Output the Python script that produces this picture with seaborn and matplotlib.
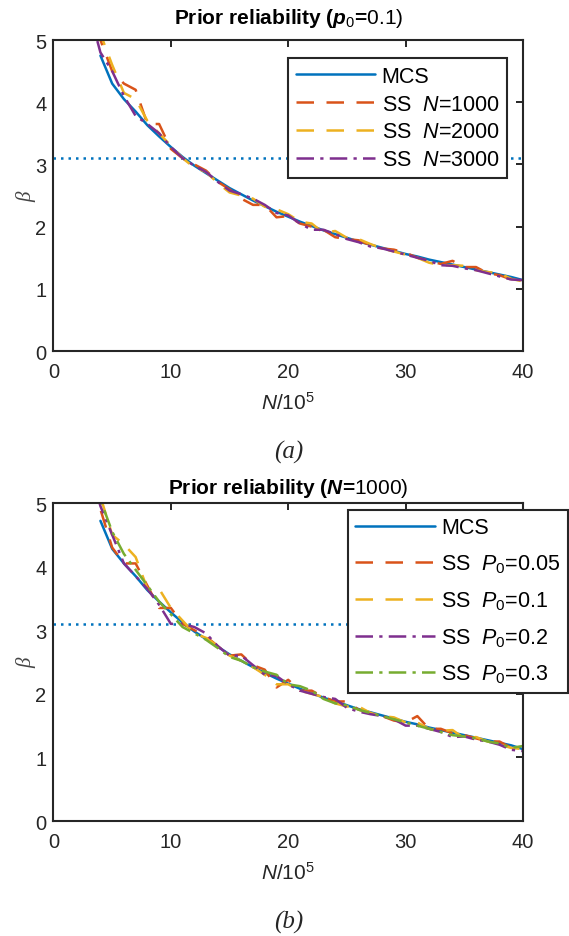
import numpy as np
import pandas as pd
import matplotlib
matplotlib.use("Agg")
import matplotlib.pyplot as plt
import seaborn as sns

# ---- data ----
x_mcs = list(range(4, 41))
x_ss = list(range(3, 41))

mcs_a = [4.75, 4.30, 4.05, 3.85, 3.63, 3.45, 3.28, 3.12, 2.98, 2.86, 2.74, 2.62, 2.52,
         2.42, 2.33, 2.24, 2.16, 2.08, 2.01, 1.94, 1.88, 1.82, 1.76, 1.71, 1.66, 1.61,
         1.56, 1.52, 1.47, 1.43, 1.39, 1.35, 1.31, 1.27, 1.23, 1.19, 1.14]
ss_n1000 = [5.9, 5.0, 4.5, 4.3, 4.2, 3.65, 3.65, 3.25, 3.1, 3.0, 2.9, 2.72, 2.6, 2.45,
            2.35, 2.35, 2.15, 2.17, 2.05, 2.0, 1.95, 1.83, 1.8, 1.78, 1.7, 1.65, 1.63,
            1.58, 1.5, 1.45, 1.4, 1.45, 1.35, 1.35, 1.25, 1.22, 1.15, 1.13]
ss_n2000 = [6.0, 5.1, 4.6, 4.15, 4.05, 3.7, 3.5, 3.3, 3.1, 2.95, 2.88, 2.7, 2.55, 2.5,
            2.45, 2.32, 2.28, 2.2, 2.08, 2.05, 1.9, 1.93, 1.82, 1.8, 1.72, 1.65, 1.6,
            1.55, 1.5, 1.42, 1.38, 1.38, 1.37, 1.3, 1.27, 1.25, 1.16, 1.12]
ss_n3000 = [5.5, 4.8, 4.5, 4.1, 3.78, 3.65, 3.5, 3.28, 3.1, 2.98, 2.88, 2.72, 2.58, 2.52,
            2.45, 2.35, 2.22, 2.18, 2.05, 1.95, 1.95, 1.88, 1.8, 1.75, 1.68, 1.65, 1.6,
            1.55, 1.5, 1.45, 1.38, 1.37, 1.33, 1.3, 1.25, 1.2, 1.15, 1.14]

mcs_b = [4.72, 4.28, 4.05, 3.85, 3.63, 3.45, 3.28, 3.12, 2.98, 2.86, 2.74, 2.62, 2.52,
         2.42, 2.33, 2.24, 2.16, 2.08, 2.01, 1.94, 1.88, 1.82, 1.76, 1.71, 1.66, 1.61,
         1.56, 1.52, 1.47, 1.43, 1.39, 1.35, 1.31, 1.27, 1.23, 1.19, 1.13]
ss_p005 = [5.8, 4.9, 4.3, 4.05, 4.05, 3.7, 3.35, 3.35, 3.1, 3.0, 2.9, 2.75, 2.6, 2.62,
           2.45, 2.38, 2.1, 2.22, 2.05, 2.05, 1.95, 1.88, 1.88, 1.75, 1.7, 1.65, 1.58,
           1.55, 1.65, 1.45, 1.45, 1.38, 1.35, 1.3, 1.25, 1.25, 1.15, 1.12]
ss_p01 = [6.0, 5.1, 4.5, 4.35, 4.15, 3.65, 3.65, 3.35, 3.15, 2.95, 2.88, 2.75, 2.6, 2.52,
          2.42, 2.3, 2.15, 2.15, 2.05, 2.0, 1.95, 1.85, 1.8, 1.8, 1.7, 1.65, 1.63,
          1.55, 1.55, 1.45, 1.42, 1.43, 1.3, 1.32, 1.25, 1.2, 1.15, 1.13]
ss_p02 = [5.6, 4.95, 4.5, 4.05, 3.85, 3.65, 3.4, 3.1, 3.1, 3.05, 2.95, 2.75, 2.6, 2.6,
          2.45, 2.3, 2.28, 2.15, 2.05, 2.0, 1.95, 1.92, 1.78, 1.72, 1.68, 1.65, 1.6,
          1.5, 1.5, 1.45, 1.4, 1.32, 1.33, 1.28, 1.25, 1.2, 1.12, 1.1]
ss_p03 = [5.9, 5.05, 4.55, 4.2, 3.95, 3.7, 3.45, 3.25, 3.05, 2.95, 2.85, 2.72, 2.58, 2.52,
          2.42, 2.35, 2.3, 2.15, 2.12, 2.05, 1.92, 1.85, 1.82, 1.75, 1.7, 1.65, 1.6,
          1.55, 1.5, 1.45, 1.4, 1.35, 1.33, 1.3, 1.25, 1.22, 1.15, 1.18]

beta_target = 3.1

labels_a = ["MCS", r"SS  $N$=1000", r"SS  $N$=2000", r"SS  $N$=3000"]
labels_b = ["MCS", r"SS  $P_0$=0.05", r"SS  $P_0$=0.1", r"SS  $P_0$=0.2", r"SS  $P_0$=0.3"]

# ---- style ----
sns.set_theme(style="white")
plt.rcParams["font.family"] = ["Liberation Sans", "DejaVu Sans"]
plt.rcParams["mathtext.fontset"] = "custom"
plt.rcParams["mathtext.rm"] = "Liberation Sans"
plt.rcParams["mathtext.it"] = "Liberation Sans:italic"
plt.rcParams["mathtext.bf"] = "Liberation Sans:bold"
plt.rcParams["mathtext.bfit"] = "Liberation Sans:bold:italic"

dark = "#262626"
c_blue, c_red, c_yel, c_pur, c_grn = "#0072BD", "#D95319", "#EDB120", "#7E2F8E", "#77AC30"
solid = "-"
dashed = (0, (7, 5))
dashdot = (0, (7, 2.5, 1.3, 2.5))
lw = 1.8

fig = plt.figure(figsize=(5.69, 9.37), dpi=100)
ax_a = fig.add_axes([0.094, 0.6243, 0.8251, 0.3319])
ax_b = fig.add_axes([0.094, 0.1227, 0.8251, 0.3394])


def draw(ax, series, labels, styles, colors):
    for (xs, ys), lab, ls, col in zip(series, labels, styles, colors):
        sns.lineplot(x=xs, y=ys, ax=ax, color=col, linestyle=ls, lw=lw, label=lab)
    ax.axhline(beta_target, color=c_blue, lw=1.8, linestyle=(0, (1, 2.0)), zorder=1)
    ax.set_xlim(0, 40)
    ax.set_ylim(0, 5)
    ax.set_xticks([0, 10, 20, 30, 40])
    ax.set_yticks([0, 1, 2, 3, 4, 5])
    ax.tick_params(direction="in", length=5, width=1.4, top=True, right=True,
                   labelsize=14.5, colors=dark, labelcolor=dark)
    ax.tick_params(axis="x", pad=8)
    ax.tick_params(axis="y", pad=5)
    for sp in ax.spines.values():
        sp.set_color(dark)
        sp.set_linewidth(1.5)
    ax.set_xlabel(r"$N$/10$^5$", fontsize=15, color=dark, labelpad=7)
    ax.set_ylabel("β", fontsize=15, color="#444444", family="Liberation Serif",
                  style="italic", labelpad=-1)


draw(ax_a,
     [(x_mcs, mcs_a), (x_ss, ss_n1000), (x_ss, ss_n2000), (x_ss, ss_n3000)],
     labels_a, [solid, dashed, dashed, dashdot], [c_blue, c_red, c_yel, c_pur])
draw(ax_b,
     [(x_mcs, mcs_b), (x_ss, ss_p005), (x_ss, ss_p01), (x_ss, ss_p02), (x_ss, ss_p03)],
     labels_b, [solid, dashed, dashed, dashdot, dashdot],
     [c_blue, c_red, c_yel, c_pur, c_grn])

leg_kw = dict(fontsize=15.5, frameon=True, fancybox=False, framealpha=1,
              edgecolor=dark, handlelength=3.7, handletextpad=0.3,
              borderpad=0.35, borderaxespad=0, loc="upper left")
leg_a = ax_a.legend(bbox_to_anchor=(0.4995, 0.942), labelspacing=0.32, **leg_kw)
leg_b = ax_b.legend(bbox_to_anchor=(0.627, 0.979), labelspacing=0.66, **leg_kw)
for leg in (leg_a, leg_b):
    leg.get_frame().set_linewidth(1.5)
    for t in leg.get_texts():
        t.set_color("black")

ax_a.set_title(r"Prior reliability ($\mathbfit{p}_{0}$=$\mathrm{0.1)}$",
               fontsize=15, fontweight="bold", color="black", pad=12.5)
ax_b.set_title(r"Prior reliability ($\mathbfit{N}$=$\mathrm{1000)}$",
               fontsize=15, fontweight="bold", color="black", pad=7.5)

fig.text(0.507, 1 - 452 / 937, "(a)", ha="center", va="center", fontsize=18,
         family="Liberation Serif", style="italic")
fig.text(0.507, 1 - 922 / 937, "(b)", ha="center", va="center", fontsize=18,
         family="Liberation Serif", style="italic")

fig.savefig("out.png", dpi=100)
